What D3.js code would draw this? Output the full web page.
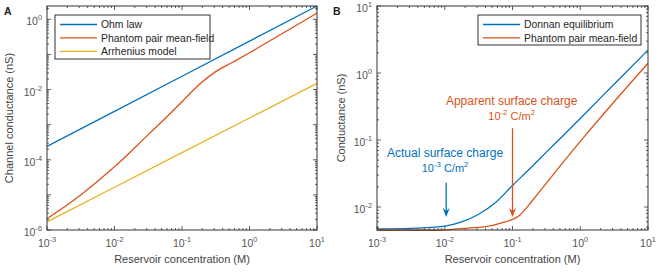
<!DOCTYPE html>
<html lang="en">
<head>
<meta charset="UTF-8">
<title>Channel conductance</title>
<script src="https://d3js.org/d3.v7.min.js"></script>
<style>
  body, html { margin: 0; padding: 0; background: #fff; }
  svg text { font-family: "Liberation Sans", Arial, Helvetica, sans-serif; }
  .tick-label { fill: #555; font-size: 10.5px; }
  .axis-label { fill: #444; font-size: 11px; }
  .legend-text { fill: #262626; font-size: 10.4px; }
</style>
</head>
<body>
<svg id="chart" width="664" height="272"></svg>
<script>
// ---- panel A data ----
const concA = [0.001, 0.01, 0.1, 1, 10];
const ohmA = [2.4e-4, 2.4e-3, 2.4e-2, 0.24, 2.4];
const arrheniusA = [1.7e-6, 1.65e-5, 1.6e-4, 1.55e-3, 0.015];
const concPhantomA = [0.001, 0.00316, 0.01, 0.0316, 0.0562, 0.1, 0.178, 0.316, 0.562, 1, 3.16, 10];
const phantomA = [2.1e-6, 1.0e-5, 6.3e-5, 5.2e-4, 1.5e-3, 4.5e-3, 0.0138, 0.0324, 0.060, 0.112, 0.41, 1.5];
const legendA = ["Ohm law", "Phantom pair mean-field", "Arrhenius model"];

// ---- panel B data ----
const concDonnanB = [0.001, 0.00316, 0.01, 0.0178, 0.0316, 0.0562, 0.1, 0.178, 0.316, 0.562, 1, 3.16, 10];
const donnanB = [0.0047, 0.0048, 0.0052, 0.006, 0.0078, 0.0117, 0.021, 0.037, 0.066, 0.117, 0.21, 0.68, 2.2];
const concPhantomB = [0.001, 0.0085, 0.0236, 0.0355, 0.0776, 0.125, 0.194, 0.383, 1.17, 10];
const phantomB = [0.0045, 0.0045, 0.0049, 0.005, 0.006, 0.0074, 0.0123, 0.029, 0.115, 1.4];
const legendB = ["Donnan equilibrium", "Phantom pair mean-field"];

const colors = ["#0072BD", "#D95319", "#EDB120"];

const svg = d3.select("#chart");

function supText(sel, parts) {
  // parts: [text, isSup]
  let raised = false;
  parts.forEach(([t, sup]) => {
    const ts = sel.append("tspan").text(t);
    if (sup && !raised) { ts.attr("dy", -5).attr("font-size", "0.7em"); raised = true; }
    else if (sup) { ts.attr("font-size", "0.7em"); }
    else if (!sup && raised) { ts.attr("dy", 5); raised = false; }
  });
}

function drawPanel(cfg) {
  const g = svg.append("g");
  const x = d3.scaleLog().domain(cfg.xDomain).range([cfg.left, cfg.right]);
  const y = d3.scaleLog().domain(cfg.yDomain).range([cfg.bottom, cfg.top]);

  // ticks (inward, all four sides)
  const minorX = [], majorX = [];
  for (let e = -3; e <= 1; e++) {
    majorX.push(Math.pow(10, e));
    if (e < 1) for (let m = 2; m < 10; m++) minorX.push(m * Math.pow(10, e));
  }
  const yLo = Math.floor(Math.log10(cfg.yDomain[0])), yHi = Math.ceil(Math.log10(cfg.yDomain[1]));
  const minorY = [], majorY = [];
  for (let e = yLo; e <= yHi; e++) {
    const v = Math.pow(10, e);
    if (v >= cfg.yDomain[0] * 0.999 && v <= cfg.yDomain[1] * 1.001) majorY.push(v);
    for (let m = 2; m < 10; m++) {
      const mv = m * v;
      if (mv >= cfg.yDomain[0] && mv <= cfg.yDomain[1]) minorY.push(mv);
    }
  }
  const tk = g.append("g").attr("stroke", "#333").attr("stroke-width", 0.8);
  [[majorX, 4], [minorX, 2]].forEach(([vals, len]) => {
    vals.forEach(v => {
      tk.append("line").attr("x1", x(v)).attr("x2", x(v)).attr("y1", cfg.bottom).attr("y2", cfg.bottom - len);
      tk.append("line").attr("x1", x(v)).attr("x2", x(v)).attr("y1", cfg.top).attr("y2", cfg.top + len);
    });
  });
  [[majorY, 4], [minorY, 2]].forEach(([vals, len]) => {
    vals.forEach(v => {
      tk.append("line").attr("y1", y(v)).attr("y2", y(v)).attr("x1", cfg.left).attr("x2", cfg.left + len);
      tk.append("line").attr("y1", y(v)).attr("y2", y(v)).attr("x1", cfg.right).attr("x2", cfg.right - len);
    });
  });

  // tick labels
  majorX.forEach(v => {
    const t = g.append("text").attr("class", "tick-label").attr("x", x(v)).attr("y", cfg.bottom + 17)
      .attr("text-anchor", "middle");
    supText(t, [["10", false], [String(Math.round(Math.log10(v))), true]]);
  });
  cfg.yLabels.forEach(e => {
    const t = g.append("text").attr("class", "tick-label").attr("x", cfg.left - 5).attr("y", y(Math.pow(10, e)) + 6)
      .attr("text-anchor", "end");
    supText(t, [["10", false], [String(e), true]]);
  });

  // data lines
  cfg.series.forEach(s => {
    const line = d3.line().x(d => x(d[0])).y(d => y(d[1]))
      .curve(s.smooth ? d3.curveMonotoneX : d3.curveLinear);
    g.append("path")
      .datum(s.xs.map((c, i) => [c, s.ys[i]]))
      .attr("d", line)
      .attr("fill", "none").attr("stroke", s.color).attr("stroke-width", 1.3);
  });

  // box
  g.append("rect").attr("x", cfg.left).attr("y", cfg.top)
    .attr("width", cfg.right - cfg.left).attr("height", cfg.bottom - cfg.top)
    .attr("fill", "none").attr("stroke", "#333").attr("stroke-width", 1);

  // axis labels
  g.append("text").attr("class", "axis-label").attr("x", (cfg.left + cfg.right) / 2).attr("y", 263)
    .attr("text-anchor", "middle").text("Reservoir concentration (M)");
  g.append("text").attr("class", "axis-label")
    .attr("transform", `translate(${cfg.yLabelX},${(cfg.top + cfg.bottom) / 2}) rotate(-90)`)
    .attr("text-anchor", "middle").text(cfg.yTitle);

  // panel letter
  g.append("text").attr("x", cfg.letterX).attr("y", 15).attr("font-weight", "bold")
    .attr("font-size", "10.5px").attr("fill", "#222").text(cfg.letter);

  // legend
  const lg = cfg.legend;
  g.append("rect").attr("x", lg.x).attr("y", lg.y).attr("width", lg.w).attr("height", lg.h)
    .attr("fill", "#fff").attr("stroke", "#333").attr("stroke-width", 1);
  lg.names.forEach((n, i) => {
    const yy = lg.y + 9.5 + i * 13.4;
    g.append("line").attr("x1", lg.x + 5).attr("x2", lg.x + 42).attr("y1", yy).attr("y2", yy)
      .attr("stroke", colors[i]).attr("stroke-width", 1.3);
    g.append("text").attr("class", "legend-text").attr("x", lg.x + 46).attr("y", yy + 3.6).text(n);
  });

  return { g, x, y };
}

drawPanel({
  letter: "A", letterX: 4,
  left: 47, right: 317, top: 6, bottom: 230,
  xDomain: [1e-3, 10], yDomain: [1e-6, 2.4],
  yLabels: [0, -2, -4, -6], yTitle: "Channel conductance (nS)", yLabelX: 13,
  series: [
    { xs: concA, ys: ohmA, color: colors[0] },
    { xs: concPhantomA, ys: phantomA, color: colors[1], smooth: true },
    { xs: concA, ys: arrheniusA, color: colors[2] }
  ],
  legend: { x: 55, y: 15, w: 155, h: 44, names: legendA }
});

const pB = drawPanel({
  letter: "B", letterX: 333,
  left: 377, right: 648, top: 6, bottom: 230,
  xDomain: [1e-3, 10], yDomain: [0.00454, 10],
  yLabels: [1, 0, -1, -2], yTitle: "Conductance (nS)", yLabelX: 345,
  series: [
    { xs: concDonnanB, ys: donnanB, color: colors[0], smooth: true },
    { xs: concPhantomB, ys: phantomB, color: colors[1], smooth: true }
  ],
  legend: { x: 478, y: 15, w: 163, h: 30, names: legendB }
});

// annotations in panel B
const annotations = [
  { c: 0.1, yTop: 0.15, yTip: 0.0071, color: colors[1], textC: 0.097, textY: 0.33,
    line1: "Apparent surface charge", exp: "-2" },
  { c: 0.0105, yTop: 0.023, yTip: 0.0071, color: colors[0], textC: 0.0101, textY: 0.055,
    line1: "Actual surface charge", exp: "-3" }
];
annotations.forEach(a => {
  const ax = pB.x(a.c), y0 = pB.y(a.yTop), y1 = pB.y(a.yTip);
  pB.g.append("line").attr("x1", ax).attr("x2", ax).attr("y1", y0).attr("y2", y1 - 2)
    .attr("stroke", a.color).attr("stroke-width", 1.3);
  pB.g.append("path")
    .attr("d", `M${ax},${y1} L${ax - 3.5},${y1 - 9} L${ax},${y1 - 6} L${ax + 3.5},${y1 - 9} Z`)
    .attr("fill", a.color);
  const tx = pB.x(a.textC), ty = pB.y(a.textY);
  pB.g.append("text").attr("x", tx).attr("y", ty).attr("text-anchor", "middle")
    .attr("font-size", "12px").attr("fill", a.color).text(a.line1);
  const t2 = pB.g.append("text").attr("x", tx).attr("y", ty + 15).attr("text-anchor", "middle")
    .attr("font-size", "11px").attr("fill", a.color);
  supText(t2, [["10", false], [a.exp, true], [" C/m", false], ["2", true]]);
});
</script>
</body>
</html>
